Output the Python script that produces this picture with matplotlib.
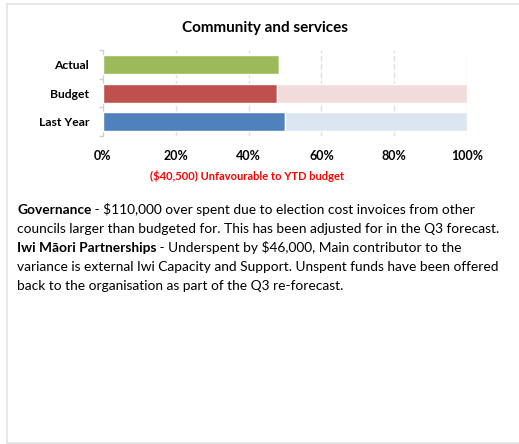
import matplotlib
matplotlib.use("Agg")
import matplotlib.pyplot as plt
from matplotlib.lines import Line2D

plt.rcParams["font.family"] = ["Lato", "DejaVu Sans"]

W, H = 519, 444

# bar data (share of full-year budget)
categories = ["Last Year", "Budget", "Actual"]
spent = [0.50, 0.478, 0.484]
remaining = [0.50, 0.522, 0.0]
dark_colors = ["#4f81bd", "#c0504d", "#9bbb59"]
light_colors = ["#dce6f2", "#f2dcdb", "#ebf1de"]
xticks = [0, 0.2, 0.4, 0.6, 0.8, 1.0]
xtick_labels = ["0%", "20%", "40%", "60%", "80%", "100%"]

title = "Community and services"
variance_note = "($40,500) Unfavourable to YTD budget"

commentary = [
    [("Governance", "bold"), (" - $110,000 over spent due to election cost invoices from other", "normal")],
    [("councils larger than budgeted for. This has been adjusted for in the Q3 forecast.", "normal")],
    [("Iwi Māori Partnerships", "bold"), (" - Underspent by $46,000, Main contributor to the", "normal")],
    [("variance is external Iwi Capacity and Support. Unspent funds have been offered", "normal")],
    [("back to the organisation as part of the Q3 re-forecast.", "normal")],
]

fig = plt.figure(figsize=(W / 100, H / 100), dpi=100)
fig.patch.set_facecolor("white")

# light frame round the panel (top, left, bottom)
frame_color = "#e3e3e3"
for xs, ys in [((7 / W, 1), (1 - 4.5 / H,) * 2),
               ((7 / W,) * 2, (1 - 4.5 / H, 1 - 443 / H)),
               ((7 / W, 1), (1 - 443 / H,) * 2)]:
    fig.add_artist(Line2D(xs, ys, color=frame_color, lw=1.2, transform=fig.transFigure))

ax = fig.add_axes([103 / W, 1 - 136 / H, (467 - 103) / W, (136 - 50.5) / H])
ypos = range(len(categories))
ax.barh(ypos, spent, height=0.66, color=dark_colors, edgecolor="white", linewidth=1.0, zorder=3)
ax.barh(ypos, remaining, left=spent, height=0.66, color=light_colors, edgecolor="white",
        linewidth=1.0, zorder=3)

ax.set_xlim(0, 1.0)
ax.set_ylim(-0.5, 2.5)
ax.set_xticks(xticks)
ax.set_xticklabels(xtick_labels, fontsize=9, fontweight="bold")
ax.set_yticks(list(ypos))
ax.set_yticklabels(categories, fontsize=8.7, fontweight="bold")
ax.tick_params(axis="x", length=0, pad=10)
ax.tick_params(axis="y", length=0, pad=10)
# minor ticks mark the category boundaries
ax.set_yticks([-0.5, 0.5, 1.5, 2.5], minor=True)
ax.tick_params(axis="y", which="minor", length=3, color="#d0d0d0", width=1)
ax.grid(axis="x", color="#e0e0e0", linestyle=(0, (4, 2)), linewidth=1, zorder=0)
for side in ["top", "right", "bottom"]:
    ax.spines[side].set_visible(False)
ax.spines["left"].set_color("#d0d0d0")

fig.text(265 / W, 1 - 28 / H, title, ha="center", va="center", fontsize=11, fontweight="bold")
fig.text(247 / W, 1 - 176 / H, variance_note, ha="center", va="center", fontsize=8,
         fontweight="bold", color="#ff0000")

# commentary paragraph, mixing bold and regular runs on each line
overlay = fig.add_axes([0, 0, 1, 1], facecolor="none")
overlay.set_axis_off()
x0 = 17 / W
for i, runs in enumerate(commentary):
    y = 1 - (210 + 19 * i) / H
    prev = None
    for txt, weight in runs:
        if prev is None:
            prev = overlay.text(x0, y, txt, ha="left", va="center", fontsize=9.9,
                                fontweight=weight, transform=fig.transFigure)
        else:
            prev = overlay.annotate(txt, xy=(1, 0), xycoords=prev, ha="left", va="bottom",
                                    fontsize=9.9, fontweight=weight)

fig.savefig("out.png", dpi=100, facecolor="white")
